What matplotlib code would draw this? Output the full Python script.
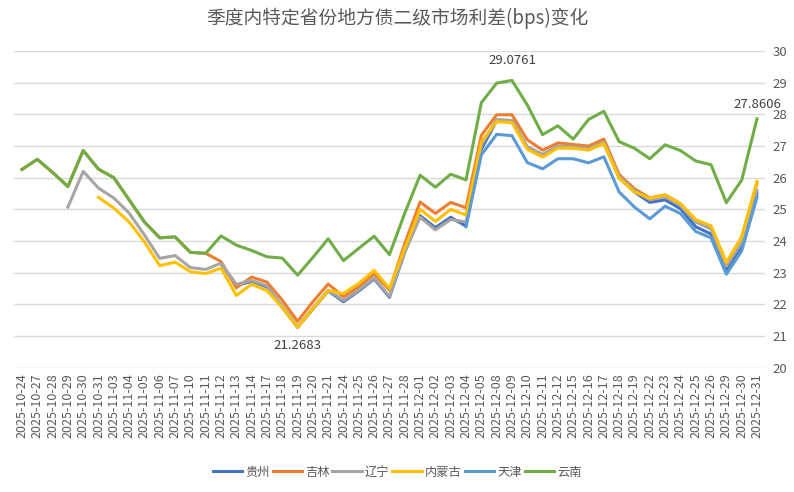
import numpy as np
import matplotlib.pyplot as plt

plt.rcParams['font.family'] = ['Noto Sans CJK SC', 'DejaVu Sans']

nan = np.nan

dates = [
    "2025-10-24", "2025-10-27", "2025-10-28", "2025-10-29", "2025-10-30", "2025-10-31",
    "2025-11-03", "2025-11-04", "2025-11-05", "2025-11-06", "2025-11-07", "2025-11-10",
    "2025-11-11", "2025-11-12", "2025-11-13", "2025-11-14", "2025-11-17", "2025-11-18",
    "2025-11-19", "2025-11-20", "2025-11-21", "2025-11-24", "2025-11-25", "2025-11-26",
    "2025-11-27", "2025-11-28", "2025-12-01", "2025-12-02", "2025-12-03", "2025-12-04",
    "2025-12-05", "2025-12-08", "2025-12-09", "2025-12-10", "2025-12-11", "2025-12-12",
    "2025-12-15", "2025-12-16", "2025-12-17", "2025-12-18", "2025-12-19", "2025-12-22",
    "2025-12-23", "2025-12-24", "2025-12-25", "2025-12-26", "2025-12-29", "2025-12-30",
    "2025-12-31",
]

yunnan = [
    26.26, 26.58, 26.17, 25.72, 26.86, 26.27, 26.0, 25.3, 24.6, 24.1, 24.13, 23.64,
    23.61, 24.16, 23.87, 23.7, 23.5, 23.46, 22.92, 23.48, 24.07, 23.38, 23.77, 24.15,
    23.57, 24.88, 26.08, 25.7, 26.11, 25.93, 28.37, 28.99, 29.0761, 28.3, 27.36, 27.64,
    27.22, 27.84, 28.1, 27.14, 26.93, 26.6, 27.04, 26.86, 26.53, 26.41, 25.21, 25.92,
    27.8606,
]

jilin = [
    26.26, 26.58, 26.17, 25.72, 26.86, 26.27, 26.0, 25.3, 24.6, 24.1, 24.13, 23.64,
    23.61, 23.35, 22.52, 22.86, 22.7, 22.13, 21.46, 22.08, 22.64, 22.24, 22.55, 22.96,
    22.45, 23.92, 25.23, 24.87, 25.22, 25.05, 27.34, 27.99, 27.99, 27.2, 26.87, 27.1,
    27.05, 27.0, 27.22, 26.1, 25.65, 25.36, 25.46, 25.18, 24.66, 24.46, 23.31, 24.11,
    25.84,
]

liaoning = [
    nan, nan, nan, 25.07, 26.2, 25.67, 25.36, 24.88, 24.19, 23.45, 23.54, 23.16,
    23.1, 23.3, 22.63, 22.75, 22.58, 21.95, 21.29, 21.88, 22.45, 22.12, 22.45, 22.83,
    22.25, 23.66, 24.75, 24.35, 24.68, 24.6, 27.02, 27.84, 27.81, 26.98, 26.74, 27.0,
    26.98, 26.92, 27.12, 26.04, 25.6, 25.3, 25.4, 25.12, 24.6, 24.38, 23.2, 23.95,
    25.6,
]

neimenggu = [
    nan, nan, nan, nan, nan, 25.38, 25.04, 24.6, 23.97, 23.22, 23.33, 23.03,
    22.97, 23.14, 22.28, 22.63, 22.43, 21.9, 21.2683, 21.86, 22.43, 22.34, 22.66, 23.07,
    22.5, 23.77, 25.0, 24.62, 25.0, 24.82, 27.14, 27.77, 27.74, 26.9, 26.65, 26.94,
    26.93, 26.87, 27.08, 25.98, 25.55, 25.35, 25.45, 25.18, 24.67, 24.48, 23.32, 24.12,
    25.88,
]

guizhou = [
    nan, nan, nan, nan, nan, nan, nan, nan, nan, nan, nan, nan,
    nan, 23.28, 22.6, 22.72, 22.55, 21.9, 21.27, 21.85, 22.42, 22.08, 22.42, 22.8,
    22.22, 23.65, 24.8, 24.42, 24.75, 24.47, 26.9, 27.8, 27.8, 26.95, 26.72, 26.98,
    26.95, 26.9, 27.1, 26.0, 25.55, 25.22, 25.3, 25.02, 24.45, 24.22, 23.1, 23.8,
    25.5,
]

tianjin = [
    nan, nan, nan, nan, nan, nan, nan, nan, nan, nan, nan, nan,
    nan, nan, nan, nan, nan, nan, nan, nan, nan, nan, nan, nan,
    nan, nan, nan, nan, nan, 24.45, 26.72, 27.37, 27.33, 26.48, 26.28, 26.6,
    26.6, 26.47, 26.66, 25.55, 25.07, 24.7, 25.1, 24.87, 24.3, 24.1, 22.95, 23.68,
    25.38,
]

series = [
    ("贵州", guizhou, "#4472C4"),
    ("吉林", jilin, "#ED7D31"),
    ("辽宁", liaoning, "#A5A5A5"),
    ("内蒙古", neimenggu, "#FFC000"),
    ("天津", tianjin, "#5B9BD5"),
    ("云南", yunnan, "#70AD47"),
]

text_col = "#595959"

fig = plt.figure(figsize=(7.94, 4.92), dpi=100)
ax = fig.add_axes([0.018, 0.253, 0.945, 0.643])

x = np.arange(len(dates))
for name, vals, col in series:
    ax.plot(x, vals, color=col, lw=2.2, label=name, solid_joinstyle="round")

ax.set_xlim(-0.5, len(dates) - 0.5)
ax.set_ylim(20, 30)
ax.set_yticks(range(20, 31))
ax.yaxis.tick_right()
ax.set_xticks(x)
ax.set_xticklabels(dates, rotation=90, fontsize=9, color=text_col)
ax.tick_params(axis="y", labelsize=9.5, colors=text_col, length=0, pad=6)
ax.tick_params(axis="x", length=0, pad=4)
ax.grid(axis="y", color="#D9D9D9", lw=1)
ax.set_axisbelow(True)
for s in ax.spines.values():
    s.set_visible(False)

# data labels
i_max = int(np.argmax(yunnan))
ax.annotate(f"{yunnan[i_max]:.4f}", (i_max, yunnan[i_max]), xytext=(0, 10),
            textcoords="offset points", ha="center", va="bottom", fontsize=9.5, color="#404040")
ax.annotate(f"{yunnan[-1]:.4f}", (len(dates) - 1, yunnan[-1]), xytext=(0, 6),
            textcoords="offset points", ha="center", va="bottom", fontsize=9.5, color="#404040")
i_min = int(np.nanargmin(neimenggu))
ax.annotate(f"{neimenggu[i_min]:.4f}", (i_min, neimenggu[i_min]), xytext=(0, -8),
            textcoords="offset points", ha="center", va="top", fontsize=9.5, color="#404040")

fig.suptitle("季度内特定省份地方债二级市场利差(bps)变化", x=0.5, y=0.985, fontsize=13.5, color=text_col)

fig.legend(loc="lower center", bbox_to_anchor=(0.5, 0.005), ncol=6, frameon=False,
           fontsize=8.8, labelcolor=text_col, handlelength=2.4, columnspacing=0.25,
           handletextpad=0.25)

fig.savefig("out.png", dpi=100)
